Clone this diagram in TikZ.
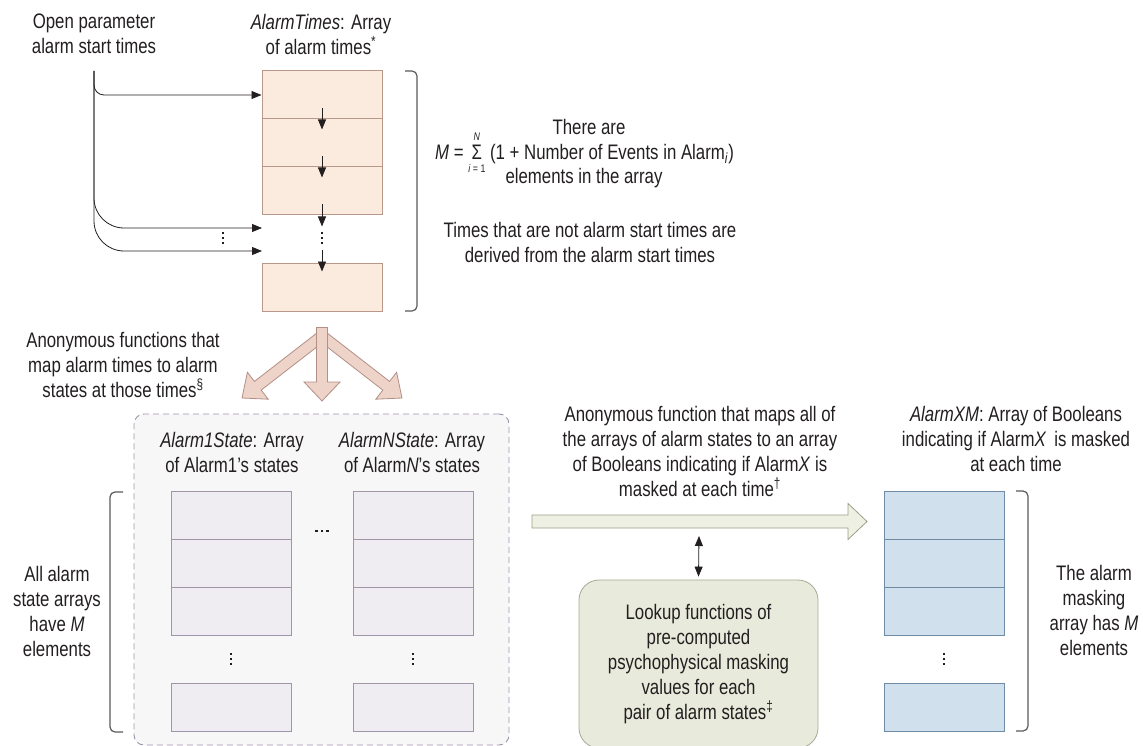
\documentclass[tikz,border=0pt]{standalone}
\usepackage{fontspec}
\setmainfont{Liberation Sans}[FakeStretch=0.8]
\usetikzlibrary{arrows.meta,calc}
\definecolor{ink}{HTML}{231F20}
\definecolor{pkfill}{HTML}{FBEBDE}
\definecolor{pkdraw}{HTML}{B8988B}
\definecolor{arfill}{HTML}{EDD3C8}
\definecolor{ardraw}{HTML}{B48F86}
\definecolor{grpfill}{HTML}{F7F7F7}
\definecolor{grpdraw}{HTML}{A092AD}
\definecolor{lvfill}{HTML}{EFEDF2}
\definecolor{lvdraw}{HTML}{A095AA}
\definecolor{blfill}{HTML}{D0E0EC}
\definecolor{bldraw}{HTML}{6E8CA6}
\definecolor{gnfill}{HTML}{EEF0E3}
\definecolor{gndraw}{HTML}{9C9F88}
\definecolor{lkfill}{HTML}{E8EADB}
\definecolor{lkdraw}{HTML}{A7AA95}
\definecolor{brc}{HTML}{5A5A5A}
% style, from, to, head length, shaft half width, head half width
\newcommand\blockarrow[6]{%
  \coordinate (ba-h) at ($(#3)!#4!(#2)$);
  \draw[#1] ($(#2)!#5!90:(#3)$) -- ($(ba-h)!#5!90:(#3)$) -- ($(ba-h)!#6!90:(#3)$) -- (#3)
    -- ($(ba-h)!#6!-90:(#3)$) -- ($(ba-h)!#5!-90:(#3)$) -- ($(#2)!#5!-90:(#3)$) -- cycle;}
% vertical / horizontal ellipsis marks: name, position
\newcommand\vdotsmark[2]{%
  \coordinate (#1) at (#2);
  \foreach \dd in {-5,0,5} \fill[ink] ($(#1)+(-1.2,\dd-1.2)$) rectangle +(2.4,2.4);}
\newcommand\hdotsmark[2]{%
  \coordinate (#1) at (#2);
  \foreach \dd in {-5.5,0,5.5} \fill[ink] ($(#1)+(\dd-1.1,-1.1)$) rectangle +(2.2,2.2);}
\tikzset{
  txt/.style={align=center, text=ink, inner sep=0pt},
  tcell/.style={draw=pkdraw, fill=pkfill, line width=1pt, minimum width=120pt, minimum height=48pt, inner sep=0pt},
  lcell/.style={tcell, draw=lvdraw, fill=lvfill},
  bcell/.style={tcell, draw=bldraw, fill=blfill},
  darr/.style={draw=ink, line width=0.8pt, -{Triangle[length=10pt,width=8pt]}},
  conn/.style={darr},
  brace/.style={draw=brc, line width=1.2pt, rounded corners=5pt},
  pinkarrow/.style={fill=arfill, draw=ardraw, line width=0.8pt},
  greenarrow/.style={fill=gnfill, draw=gndraw, line width=0.8pt},
}
\begin{document}
\begin{tikzpicture}[x=1pt,y=-1pt,font=\fontsize{21}{25}\selectfont]
\useasboundingbox (0,0) rectangle (1143,746);
\clip (0,0) rectangle (1143,746);
\fill[white] (0,0) rectangle (1143,746);

% ---------- top: alarm times ----------
\node[txt] (openp) at (94,34) {Open parameter\\alarm start times};
\node[txt] (attl) at (321,34) {\textit{AlarmTimes}: Array\\of alarm times\textsuperscript{*}};
\node[tcell] (t1) at (322,95) {};
\node[tcell] (t2) at (322,143) {};
\node[tcell] (t3) at (322,191) {};
\vdotsmark{tdots}{322,238}
\node[tcell] (t4) at (322,287) {};
\draw[darr] ([yshift=11pt]t1.south) -- ([yshift=-11pt]t2.north);
\draw[darr] ([yshift=11pt]t2.south) -- ([yshift=-11pt]t3.north);
\draw[darr] ([yshift=11pt]t3.south) -- ([yshift=-11pt]t3.south);
\draw[darr] ([yshift=13pt]t4.north) -- ([yshift=-9pt]t4.north);

\coordinate (src) at (94,71);
\coordinate (in2) at (262,228);
\coordinate (in3) at (262,251);
\draw[conn, rounded corners=10pt] (src) |- (t1.west);
\draw[conn, rounded corners=30pt] (src) |- (in2);
\draw[conn, rounded corners=30pt] (src) |- (in3);
\vdotsmark{ldots}{223,238}

\draw[brace] (405,71) -- (417,71) -- (417,311) -- (405,311);

\node[txt] (there) at (589,127) {There are};
\node[txt, anchor=base west] (mline) at (435,159.5) {\textit{M} = $\mathop{\hbox{Σ}}\limits^{\hbox{\fontsize{11}{11}\selectfont\textit{N}\vrule width 0pt depth 3pt}}_{\hbox{\fontsize{11}{11}\selectfont\vrule width 0pt height 11pt\textit{i} = 1}}$ (1 + Number of Events in Alarm\textsubscript{\textit{i}})};
\node[txt] (elem) at (584,178) {elements in the array};
\node[txt] (times) at (590,242) {Times that are not alarm start times are\\derived from the alarm start times};

% ---------- fan of anonymous functions ----------
\node[txt] (anonl) at (123,365) {Anonymous functions that\\map alarm times to alarm\\states at those times\textsuperscript{§}};
\coordinate (pa) at ([yshift=-16pt]t4.south);
\coordinate (pd) at (322,336);
\coordinate (pl) at (242,398);
\coordinate (pr) at (402,398);
\coordinate (pc) at (322,401);
\blockarrow{pinkarrow}{pd}{pl}{20pt}{5.5pt}{17pt}
\blockarrow{pinkarrow}{pd}{pr}{20pt}{5.5pt}{17pt}
\blockarrow{pinkarrow}{pa}{pc}{19pt}{5.5pt}{18pt}

% ---------- group of alarm state arrays ----------
\node[draw=grpdraw, fill=grpfill, dash pattern=on 6pt off 4pt, rounded corners=10pt, line width=0.9pt,
      minimum width=375pt, minimum height=331pt, inner sep=0pt] (grp) at (321.5,579.5) {};
\node[txt] (a1h) at (232,452) {\textit{Alarm1State}: Array\\of Alarm1's states};
\node[txt] (anh) at (412,452) {\textit{AlarmNState}: Array\\of Alarm\textit{N}'s states};
\node[lcell] (a1) at (231,515) {};
\node[lcell] (a2) at (231,563) {};
\node[lcell] (a3) at (231,611) {};
\vdotsmark{adots}{231,659}
\node[lcell] (a4) at (231,707) {};
\node[lcell] (n1) at (413,515) {};
\node[lcell] (n2) at (413,563) {};
\node[lcell] (n3) at (413,611) {};
\vdotsmark{ndots}{413,659}
\node[lcell] (n4) at (413,707) {};
\hdotsmark{hdots}{322,531}

\draw[brace] (123,492) -- (110,492) -- (110,732) -- (123,732);
\node[txt] (allm) at (57,611) {All alarm\\state arrays\\have \textit{M}\\elements};

% ---------- masking function ----------
\node[txt] (anonr) at (700,451) {Anonymous function that maps all of\\the arrays of alarm states to an array\\of Booleans indicating if Alarm\textit{X} is\\masked at each time\textsuperscript{†}};
\coordinate (ha) at (532,521.5);
\coordinate (hb) at (867,521.5);
\blockarrow{greenarrow}{ha}{hb}{19pt}{6.5pt}{18pt}

\node[draw=lkdraw, fill=lkfill, rounded corners=20pt, line width=0.8pt, minimum width=239pt, minimum height=168pt,
      align=center, text=ink, font=\fontsize{21}{25}\selectfont, inner sep=0pt] (look) at (698.5,664)
  {Lookup functions of\\pre-computed\\psychophysical masking\\values for each\\pair of alarm states\textsuperscript{‡}};
\coordinate (dtop) at (699,536);
\draw[draw=ink, line width=0.8pt, {Triangle[length=10pt,width=8pt]}-{Triangle[length=10pt,width=8pt]}] (dtop) -- ([yshift=3pt]look.north);

% ---------- masking array ----------
\node[txt] (xmh) at (1016,438.5) {\textit{AlarmXM}: Array of Booleans\\indicating if Alarm\textit{X}\, is masked\\at each time};
\node[bcell] (b1) at (944,515) {};
\node[bcell] (b2) at (944,563) {};
\node[bcell] (b3) at (944,611) {};
\vdotsmark{bdots}{944,659}
\node[bcell] (b4) at (944,707) {};
\draw[brace] (1016,491) -- (1028,491) -- (1028,731) -- (1016,731);
\node[txt] (maskm) at (1094,610) {The alarm\\masking\\array has \textit{M}\\elements};
\end{tikzpicture}
\end{document}
